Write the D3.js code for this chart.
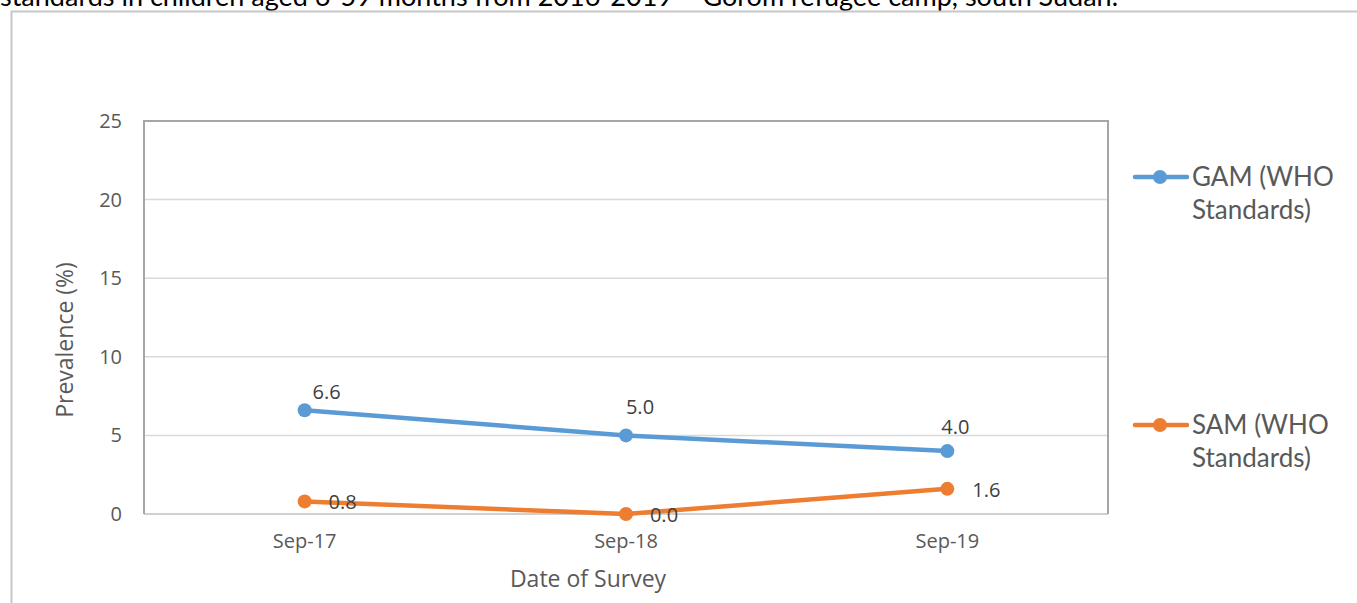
<!DOCTYPE html>
<html>
<head>
<meta charset="utf-8">
<script src="https://cdn.jsdelivr.net/npm/d3@7"></script>
<style>
  html, body { margin: 0; padding: 0; background: #fff; }
  svg { display: block; }
</style>
</head>
<body>
<svg id="chart" width="1357" height="603"></svg>
<script>
// Survey dates and prevalence (%) by WHO standards
const surveyDates = ["Sep-17", "Sep-18", "Sep-19"];
const gamValues = [6.6, 5.0, 4.0];
const samValues = [0.8, 0.0, 1.6];
const yTicks = [0, 5, 10, 15, 20, 25];
const seriesNames = ["GAM (WHO Standards)", "SAM (WHO Standards)"];
const titleText = "standards in children aged 6-59 months from 2016-2019 \u2013 Gorom refugee camp, south Sudan.";

const series = [
  { name: seriesNames[0], values: gamValues, color: "#5b9bd5", labelDx: [22, 14, 8], labelDy: [-18, -28, -24] },
  { name: seriesNames[1], values: samValues, color: "#ed7d31", labelDx: [38, 38, 39], labelDy: [1, 1, 1] }
];

const svg = d3.select("#chart");
const textColor = "#595959";

// Caption text running off the top edge
svg.append("text")
  .attr("x", 0).attr("y", 6)
  .attr("font-family", "Lato, sans-serif")
  .attr("font-size", 27)
  .attr("fill", "#000")
  .text(titleText);

// Outer chart frame
svg.append("path")
  .attr("d", "M11.5,603 V11.5 H1357")
  .attr("fill", "none")
  .attr("stroke", "#c8c8c8")
  .attr("stroke-width", 2);

const plot = { left: 144, right: 1108, top: 121, bottom: 514 };

const x = d3.scaleBand().domain(surveyDates).range([plot.left, plot.right]);
const xc = d => x(d) + x.bandwidth() / 2;
const y = d3.scaleLinear().domain([0, 25]).range([plot.bottom, plot.top]);

// Horizontal gridlines
svg.append("g")
  .selectAll("line")
  .data(yTicks.filter(t => t > 0 && t < 25))
  .join("line")
  .attr("x1", plot.left).attr("x2", plot.right)
  .attr("y1", d => y(d)).attr("y2", d => y(d))
  .attr("stroke", "#d9d9d9").attr("stroke-width", 1.5);

// Baseline
svg.append("line")
  .attr("x1", plot.left).attr("x2", plot.right)
  .attr("y1", y(0)).attr("y2", y(0))
  .attr("stroke", "#d0d0d0").attr("stroke-width", 2);

// Plot frame (left, top, right)
svg.append("path")
  .attr("d", `M${plot.left},${plot.bottom} V${plot.top} H${plot.right} V${plot.bottom}`)
  .attr("fill", "none")
  .attr("stroke", "#a6a6a6")
  .attr("stroke-width", 2);

// Y axis labels
const yAxis = d3.axisLeft(y).tickValues(yTicks).tickSize(0).tickPadding(22);
const gy = svg.append("g").attr("transform", `translate(${plot.left},0)`).call(yAxis);
gy.select(".domain").remove();
gy.selectAll("text")
  .attr("font-family", "'Open Sans', sans-serif")
  .attr("font-size", 20)
  .attr("fill", textColor);

// X axis labels
const xAxis = d3.axisBottom(x).tickSize(0).tickPadding(20);
const gx = svg.append("g").attr("transform", `translate(0,${plot.bottom})`).call(xAxis);
gx.select(".domain").remove();
gx.selectAll("text")
  .attr("font-family", "'Open Sans', sans-serif")
  .attr("font-size", 20)
  .attr("fill", textColor);

// Axis titles
svg.append("text")
  .attr("x", 588).attr("y", 587)
  .attr("text-anchor", "middle")
  .attr("font-family", "'Open Sans', sans-serif")
  .attr("font-size", 23)
  .attr("fill", textColor)
  .text("Date of Survey");

svg.append("text")
  .attr("transform", `translate(73,340) rotate(-90)`)
  .attr("text-anchor", "middle")
  .attr("font-family", "'Open Sans', sans-serif")
  .attr("font-size", 23)
  .attr("fill", textColor)
  .text("Prevalence (%)");

// Lines, markers and value labels
const line = d3.line().x((d, i) => xc(surveyDates[i])).y(d => y(d));

series.forEach(s => {
  svg.append("path")
    .datum(s.values)
    .attr("d", line)
    .attr("fill", "none")
    .attr("stroke", s.color)
    .attr("stroke-width", 4.5)
    .attr("stroke-linejoin", "round")
    .attr("stroke-linecap", "round");

  svg.append("g").selectAll("circle")
    .data(s.values)
    .join("circle")
    .attr("cx", (d, i) => xc(surveyDates[i]))
    .attr("cy", d => y(d))
    .attr("r", 7)
    .attr("fill", s.color);

  svg.append("g").selectAll("text")
    .data(s.values)
    .join("text")
    .attr("x", (d, i) => xc(surveyDates[i]) + s.labelDx[i])
    .attr("y", (d, i) => y(d) + s.labelDy[i])
    .attr("dy", "0.35em")
    .attr("text-anchor", "middle")
    .attr("font-family", "'Open Sans', sans-serif")
    .attr("font-size", 20)
    .attr("fill", "#404040")
    .text(d => d.toFixed(1));
});

// Legend
const legendY = [177, 425];
series.forEach((s, i) => {
  const g = svg.append("g").attr("transform", `translate(0,${legendY[i]})`);
  g.append("line")
    .attr("x1", 1135).attr("x2", 1187)
    .attr("y1", 0).attr("y2", 0)
    .attr("stroke", s.color).attr("stroke-width", 4.5)
    .attr("stroke-linecap", "round");
  g.append("circle").attr("cx", 1160).attr("cy", 0).attr("r", 7).attr("fill", s.color);
  const words = s.name.split(" ");
  const t = g.append("text")
    .attr("font-family", "Lato, sans-serif")
    .attr("font-size", 26)
    .attr("fill", textColor);
  t.append("tspan").attr("x", 1192).attr("y", 9).text(words.slice(0, 2).join(" "));
  t.append("tspan").attr("x", 1192).attr("y", 42).text(words.slice(2).join(" "));
});
</script>
</body>
</html>
